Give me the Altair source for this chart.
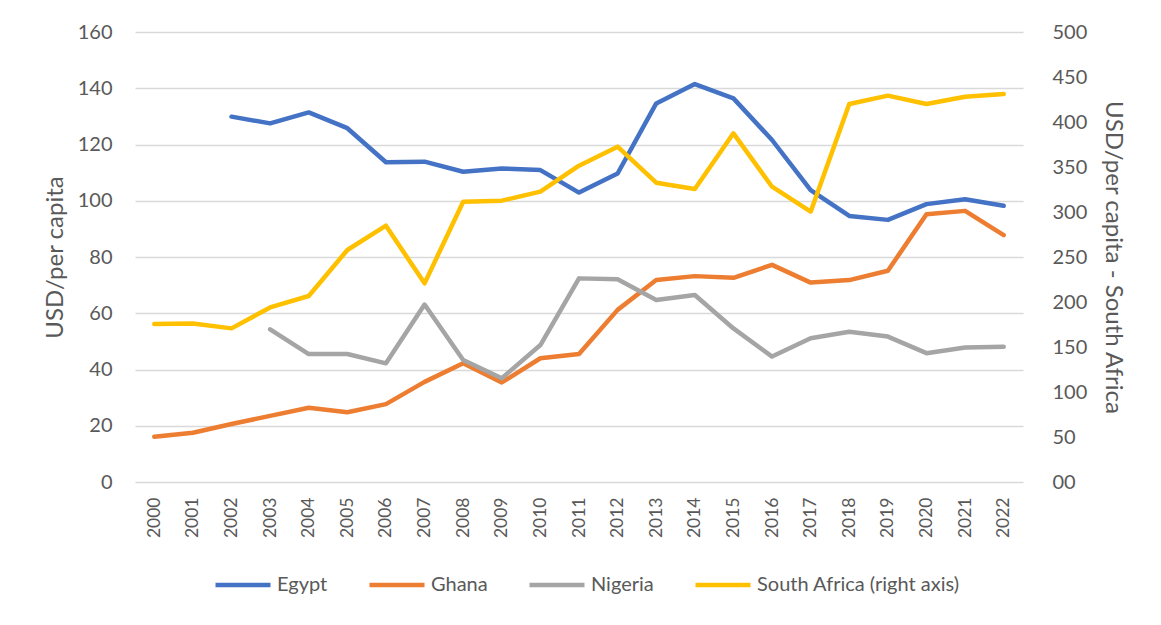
import altair as alt
import pandas as pd

years = [str(y) for y in range(2000, 2023)]

egypt = [None, None, 129.9, 127.5, 131.4, 125.8, 113.7, 113.9, 110.3, 111.5, 110.9, 102.9,
         109.7, 134.6, 141.5, 136.4, 121.6, 103.8, 94.6, 93.2, 98.8, 100.5, 98.2]
ghana = [16.1, 17.5, 20.6, 23.5, 26.4, 24.8, 27.7, 35.6, 42.2, 35.4, 44.0, 45.5,
         61.2, 71.8, 73.2, 72.6, 77.2, 70.9, 71.8, 75.1, 95.2, 96.4, 87.8]
nigeria = [None, None, None, 54.3, 45.5, 45.5, 42.2, 63.1, 43.4, 36.9, 48.7, 72.4,
           72.1, 64.7, 66.5, 54.6, 44.6, 51.1, 53.4, 51.7, 45.8, 47.8, 48.1]
south_africa = [175.6, 176.0, 170.7, 194.0, 206.7, 257.8, 284.8, 220.7, 311.4, 312.6, 322.6, 351.5,
                372.6, 332.6, 325.6, 387.4, 328.1, 300.4, 420.0, 429.3, 420.0, 428.1, 431.1]

series_names = ["Egypt", "Ghana", "Nigeria", "South Africa (right axis)"]
series_colors = ["#4472C4", "#ED7D31", "#A5A5A5", "#FFC000"]

rows = []
for name, vals in zip(series_names[:3], [egypt, ghana, nigeria]):
    for yr, v in zip(years, vals):
        if v is not None:
            rows.append({"year": yr, "series": name, "value": v})
left_df = pd.DataFrame(rows)
right_df = pd.DataFrame({"year": years, "series": series_names[3], "value": south_africa})

FONT = "Lato"
TXT = "#595959"

x_enc = alt.X("year:O", scale=alt.Scale(type="point", padding=0.5),
              axis=alt.Axis(title=None, labelAngle=270, labelAlign="right", labelBaseline="middle",
                            labelPadding=15, ticks=False, domain=False, grid=False,
                            labelFontSize=17.5, labelColor=TXT, labelFont=FONT))

color_enc = alt.Color("series:N",
                      scale=alt.Scale(domain=series_names, range=series_colors),
                      legend=alt.Legend(title=None, orient="none", direction="horizontal",
                                        legendX=78, legendY=523, symbolType="stroke",
                                        symbolSize=3025, symbolStrokeWidth=4.5,
                                        labelFontSize=20, labelColor=TXT, labelFont=FONT,
                                        labelOffset=4, columnPadding=32, labelLimit=400))

left = alt.Chart(left_df).mark_line(strokeWidth=4.5, strokeCap="round", strokeJoin="round").encode(
    x=x_enc,
    y=alt.Y("value:Q", scale=alt.Scale(domain=[0, 160]),
            axis=alt.Axis(title="USD/per capita", values=list(range(0, 161, 20)), orient="left",
                          ticks=False, domain=False, grid=True, gridColor="#D9D9D9", gridWidth=1.5,
                          labelFontSize=20, labelColor=TXT, labelFont=FONT, labelPadding=23,
                          titleFontSize=24, titleColor=TXT, titleFont=FONT, titleFontWeight="normal",
                          titlePadding=10)),
    color=color_enc,
    order=alt.Order("year:O"),
)

right = alt.Chart(right_df).mark_line(strokeWidth=4.5, strokeCap="round", strokeJoin="round").encode(
    x=x_enc,
    y=alt.Y("value:Q", scale=alt.Scale(domain=[0, 500]),
            axis=alt.Axis(title="USD/per capita - South Africa", values=list(range(0, 501, 50)),
                          orient="right", ticks=False, domain=False, grid=False,
                          labelExpr="datum.value == 0 ? '00' : datum.label",
                          labelFontSize=20, labelColor=TXT, labelFont=FONT, labelPadding=29,
                          titleFontSize=24, titleColor=TXT, titleFont=FONT, titleFontWeight="normal",
                          titlePadding=14)),
    color=color_enc,
    order=alt.Order("year:O"),
)

chart = alt.layer(left, right).resolve_scale(y="independent").properties(
    width=888, height=450,
    autosize=alt.AutoSizeParams(type="none"),
    padding={"left": 127, "top": 24, "right": 130, "bottom": 135},
    background="white",
).configure_view(stroke=None)

chart.save("out.html", embed_options={"renderer": "svg", "actions": False})
